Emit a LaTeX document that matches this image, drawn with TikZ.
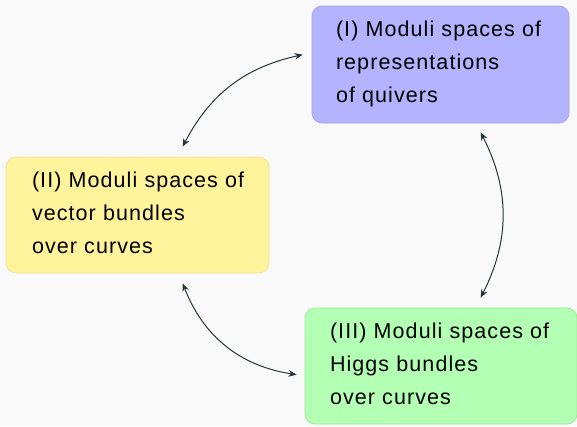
\documentclass[tikz,border=0pt]{standalone}
\usepackage{fontspec}
\setmainfont{Liberation Sans}[LetterSpace=5]
\usetikzlibrary{arrows.meta,calc}

\definecolor{bgcol}{RGB}{249,249,249}
\definecolor{quiverfill}{RGB}{179,179,255}
\definecolor{quiverline}{RGB}{160,160,240}
\definecolor{vectfill}{RGB}{255,243,155}
\definecolor{vectline}{RGB}{238,224,150}
\definecolor{higgsfill}{RGB}{179,255,179}
\definecolor{higgsline}{RGB}{155,230,155}
\definecolor{linkcol}{RGB}{40,52,56}

\tikzset{
  topic/.style={
    draw, line width=0.7pt, rounded corners=10pt,
    inner xsep=0pt, inner ysep=0pt, align=left,
    font=\fontsize{21.5}{33}\selectfont,
    text height=15pt, text depth=71pt
  },
  link/.style={
    draw=linkcol, line width=1pt,
    {Stealth[length=8pt,width=6.5pt,inset=2.5pt]}-{Stealth[length=8pt,width=6.5pt,inset=2.5pt]}
  }
}

\begin{document}
\begin{tikzpicture}[x=1pt,y=1pt]
  \fill[bgcol] (0,0) rectangle (577,-426);
  \useasboundingbox (0,0) rectangle (577,-426);

  \node[topic, fill=quiverfill, draw=quiverline,
        minimum width=257pt, minimum height=117pt,
        text width=209pt] (quiv) at (440.5,-64.5)
    {\mbox{(I) Moduli spaces of}\\representations\\of quivers};

  \node[topic, fill=vectfill, draw=vectline,
        minimum width=263pt, minimum height=116pt,
        text width=211pt] (vect) at (137.5,-215)
    {\mbox{(II) Moduli spaces of}\\vector bundles\\over curves};

  \node[topic, fill=higgsfill, draw=higgsline,
        minimum width=272pt, minimum height=116pt,
        text width=222pt] (higgs) at (441,-366)
    {\mbox{(III) Moduli spaces of}\\Higgs bundles\\over curves};

  % attachment points of the double arrows
  \coordinate (q1) at ($(quiv.north west)+(-9,-49)$);
  \coordinate (q2) at ($(quiv.south west)+(169,-9)$);
  \coordinate (v1) at ($(vect.north west)+(177,10)$);
  \coordinate (v2) at ($(vect.south west)+(177,-10)$);
  \coordinate (h1) at ($(higgs.north west)+(176,10)$);
  \coordinate (h2) at ($(higgs.north west)+(-8,-67)$);

  \draw[link] (q1) to[bend right=25] (v1);
  \draw[link] (v2) to[bend right=30] (h2);
  \draw[link] (q2) to[bend left=27] (h1);
\end{tikzpicture}
\end{document}
